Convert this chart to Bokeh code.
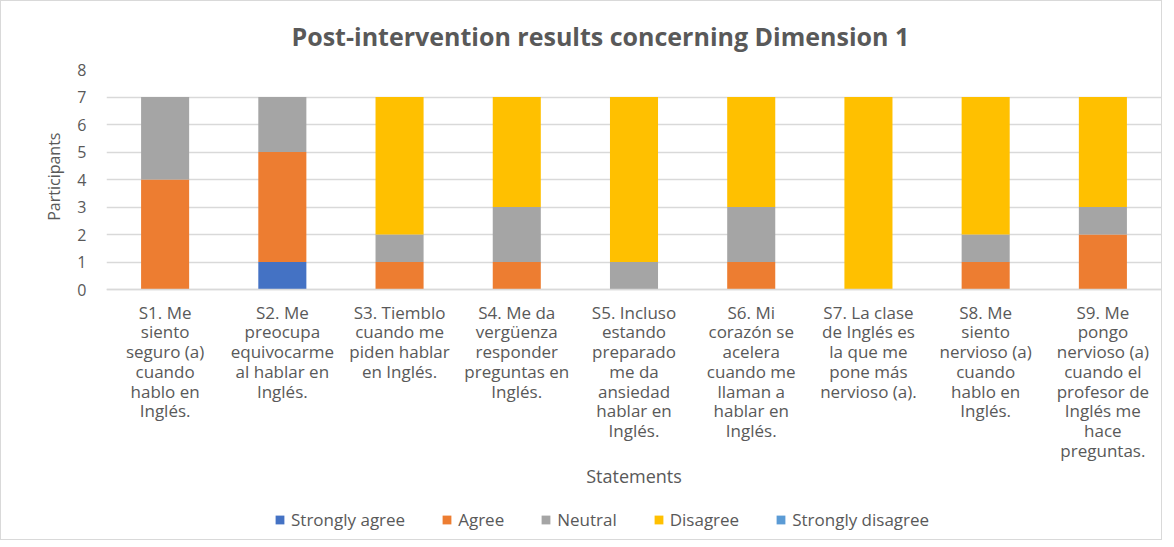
from bokeh.plotting import figure
from bokeh.models import Range1d, FactorRange, FixedTicker, Legend, LegendItem, ColumnDataSource, Title
from bokeh.embed import file_html
from bokeh.resources import INLINE

categories = [
    "S1. Me\nsiento\nseguro (a)\ncuando\nhablo en\nInglés.",
    "S2. Me\npreocupa\nequivocarme\nal hablar en\nInglés.",
    "S3. Tiemblo\ncuando me\npiden hablar\nen Inglés.",
    "S4. Me da\nvergüenza\nresponder\npreguntas en\nInglés.",
    "S5. Incluso\nestando\npreparado\nme da\nansiedad\nhablar en\nInglés.",
    "S6. Mi\ncorazón se\nacelera\ncuando me\nllaman a\nhablar en\nInglés.",
    "S7. La clase\nde Inglés es\nla que me\npone más\nnervioso (a).",
    "S8. Me\nsiento\nnervioso (a)\ncuando\nhablo en\nInglés.",
    "S9. Me\npongo\nnervioso (a)\ncuando el\nprofesor de\nInglés me\nhace\npreguntas.",
]
series_names = ["Strongly agree", "Agree", "Neutral", "Disagree", "Strongly disagree"]
strongly_agree = [0, 1, 0, 0, 0, 0, 0, 0, 0]
agree = [4, 4, 1, 1, 0, 1, 0, 1, 2]
neutral = [3, 2, 1, 2, 1, 2, 0, 1, 1]
disagree = [0, 0, 5, 4, 6, 4, 7, 5, 4]
strongly_disagree = [0, 0, 0, 0, 0, 0, 0, 0, 0]
y_ticks = [0, 1, 2, 3, 4, 5, 6, 7, 8]

colors = ["#4472C4", "#ED7D31", "#A5A5A5", "#FFC000", "#5B9BD5"]
TXT = "#595959"
FONT = "Open Sans"

keys = ["sa", "a", "n", "d", "sd"]
source = ColumnDataSource(dict(cat=categories, sa=strongly_agree, a=agree, n=neutral,
                               d=disagree, sd=strongly_disagree))

# plot area: 0..8 over 220 px; extra 250 px below zero hold the category labels and legend
px_per_unit = 220 / 8
y_bottom = -250 / px_per_unit

p = figure(x_range=FactorRange(*categories), y_range=Range1d(y_bottom, 8),
           frame_width=1055, frame_height=470, output_backend="svg", toolbar_location=None,
           min_border_left=105, min_border_right=0, min_border_top=0, min_border_bottom=0,
           title="Post-intervention results concerning Dimension 1")
p.title.align = "left"
p.title.offset = 185
p.title.vertical_align = "middle"
p.title.text_font = FONT
p.title.text_font_size = "25px"
p.title.text_font_style = "bold"
p.title.text_color = TXT
p.title.standoff = 32

renderers = p.vbar_stack(keys, x="cat", width=0.41, color=colors, line_color=None, source=source)

legend = Legend(items=[LegendItem(label=n, renderers=[r]) for n, r in zip(series_names, renderers)],
                orientation="horizontal", location=(168, 8),
                label_text_font=FONT, label_text_font_size="17px", label_text_color=TXT,
                glyph_width=11, glyph_height=11, label_standoff=6, spacing=36,
                label_height=20, border_line_color=None, background_fill_alpha=0,
                padding=0, margin=0)
p.add_layout(legend)

p.outline_line_color = None
p.xgrid.grid_line_color = None
p.ygrid.grid_line_color = "#D9D9D9"
p.ygrid.grid_line_width = 1.5
p.yaxis.ticker = FixedTicker(ticks=y_ticks)
p.yaxis.bounds = (0, 8)

p.xaxis.fixed_location = 0
p.xaxis.axis_line_color = "#D9D9D9"
p.xaxis.axis_line_width = 1.5
p.xaxis.major_tick_line_color = None
p.xaxis.minor_tick_line_color = None
p.xaxis.major_label_text_font = FONT
p.xaxis.major_label_text_font_size = "17px"
p.xaxis.major_label_text_color = TXT
p.xaxis.major_label_text_line_height = 0.86
p.xaxis.major_label_standoff = 5
p.xaxis.axis_label = "Statements"
p.xaxis.axis_label_text_font = FONT
p.xaxis.axis_label_text_font_size = "18px"
p.xaxis.axis_label_text_font_style = "normal"
p.xaxis.axis_label_text_color = TXT
p.xaxis.axis_label_standoff = -1

p.yaxis.axis_line_color = None
p.yaxis.major_tick_line_color = None
p.yaxis.minor_tick_line_color = None
p.yaxis.major_label_text_font = FONT
p.yaxis.major_label_text_font_size = "16px"
p.yaxis.major_label_text_color = TXT
p.yaxis.major_label_standoff = 14

y_title = Title(text="Participants", align="right", offset=63, vertical_align="middle",
                standoff=18, text_font=FONT, text_font_size="16px",
                text_font_style="normal", text_color=TXT)
p.add_layout(y_title, "left")

p.styles = {"border": "1px solid #D9D9D9"}

open("out.html", "w").write(file_html(p, INLINE))
